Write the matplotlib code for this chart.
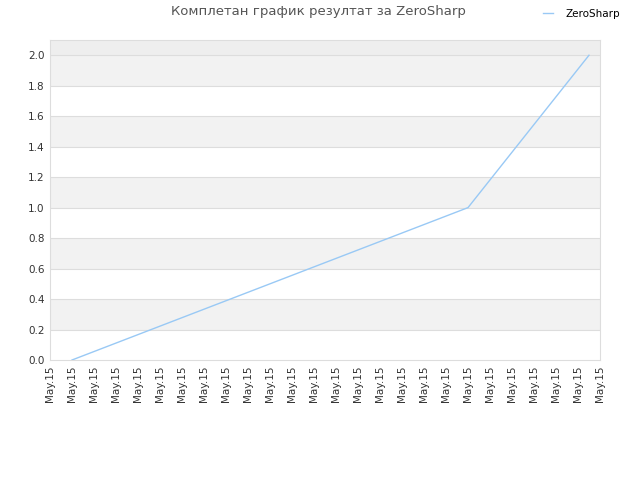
import matplotlib
matplotlib.use("Agg")
import matplotlib.pyplot as plt

# data
tick_labels = ["May.15"] * 26
x_pos = [1, 19, 24.5]
scores = [0.0, 1.0, 2.0]
series_name = "ZeroSharp"
title = "Комплетан график резултат за ZeroSharp"

fig = plt.figure(figsize=(6.4, 4.8), dpi=100)
ax = fig.add_axes([50 / 640, 120 / 480, 550 / 640, 320 / 480])

# alternating bands
ymax = 2.1
for i in range(10):
    lo = i * 0.2
    if i % 2 == 1:
        ax.axhspan(lo, lo + 0.2, color="#f2f2f2", zorder=0, lw=0)
ax.axhspan(2.0, ymax, color="#eeeeee", zorder=0, lw=0)
for i in range(1, 11):
    ax.axhline(i * 0.2, color="#dddddd", lw=0.8, zorder=1)

ax.plot(x_pos, scores, color="#99c9f5", lw=1.0, label=series_name, zorder=3)

ax.set_xlim(0, len(tick_labels) - 1)
ax.set_ylim(0, ymax)
ax.set_xticks(range(len(tick_labels)))
ax.set_xticklabels(tick_labels, rotation=90, fontsize=7.5, color="#333333")
ax.set_yticks([i * 0.2 for i in range(11)])
ax.set_yticklabels([f"{i * 0.2:.1f}" for i in range(11)], fontsize=7.5, color="#333333")
ax.tick_params(length=0, pad=4)

for s in ax.spines.values():
    s.set_color("#dddddd")

fig.text(318 / 640, 1 - 12 / 480, title, ha="center", va="center",
         fontsize=9.5, color="#555555")
fig.legend(loc="center right", bbox_to_anchor=(630 / 640, 1 - 14 / 480),
           frameon=False, fontsize=7.5, handlelength=1.0, handletextpad=1.2)

fig.savefig("out.png", dpi=100)
